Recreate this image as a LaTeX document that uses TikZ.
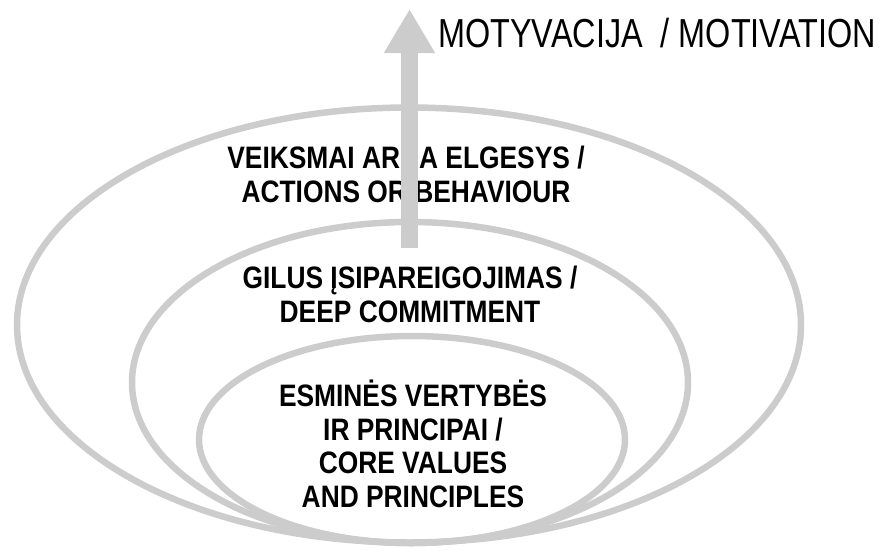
\documentclass[tikz,border=0pt]{standalone}
\usepackage{fontspec}
\usetikzlibrary{arrows.meta}
% condensed sans faces for the labels
\newfontfamily\layerfont[FakeStretch=0.85]{Liberation Sans}
\newfontfamily\goalfont[FakeStretch=0.80]{Liberation Sans}
\definecolor{ringgray}{HTML}{CCCCCC}
\begin{document}
\begin{tikzpicture}[x=1pt,y=-1pt,
  ring/.style={draw=ringgray, line width=6.5pt},
  layerlabel/.style={font=\layerfont\bfseries\fontsize{31}{33.5}\selectfont,
    align=center, inner sep=0pt, anchor=base, text=black},
  goallabel/.style={font=\goalfont\fontsize{40.5}{44}\selectfont,
    inner sep=0pt, anchor=base west, text=black},
  risearrow/.style={draw=ringgray, line width=17pt,
    -{Triangle[width=48pt,length=44pt]}}]
\useasboundingbox (0,0) rectangle (881,550);

% three nested rings touching at the bottom
\draw[ring] (409,325) ellipse [x radius=392pt, y radius=217.5pt];
\draw[ring] (410,382.5) ellipse [x radius=278pt, y radius=160.5pt];
\draw[ring] (412,439.5) ellipse [x radius=213pt, y radius=103.5pt];

% layer labels (anchored on the baseline of their last line)
\node[layerlabel] (actions) at (406,202) {VEIKSMAI ARBA ELGESYS /\\ACTIONS OR BEHAVIOUR};
\node[layerlabel] (commit) at (410,322) {GILUS ĮSIPAREIGOJIMAS /\\DEEP COMMITMENT};
\node[layerlabel] (core) at (413,507) {ESMINĖS VERTYBĖS\\IR PRINCIPAI /\\CORE VALUES\\AND PRINCIPLES};

% motivation arrow rising out of the rings
\coordinate (arrowfoot) at (409.5,248);
\coordinate (arrowtip) at (409.5,9);
\draw[risearrow] (arrowfoot) -- (arrowtip);
\node[goallabel] (motivation) at (438,47) {MOTYVACIJA~ / MOTIVATION};
\end{tikzpicture}
\end{document}
